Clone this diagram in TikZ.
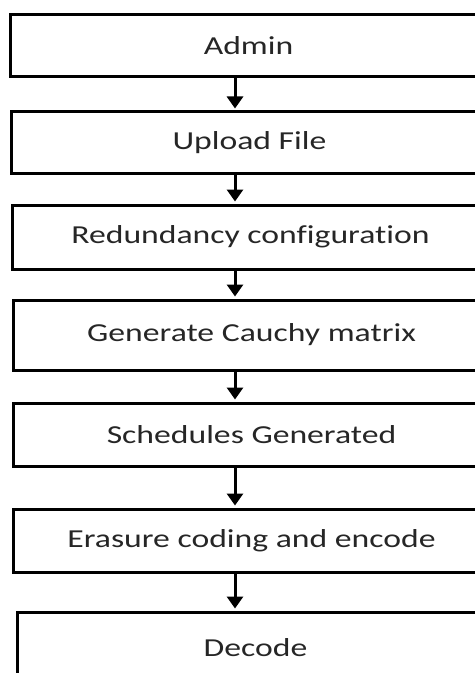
\documentclass[tikz,border=0pt]{standalone}
\usepackage{fontspec}
\setmainfont{Carlito}
\newfontfamily\stagefont[FakeStretch=1.3,Ligatures=NoCommon]{Carlito}
\usetikzlibrary{arrows.meta}

\begin{document}
\begin{tikzpicture}[line cap=butt,line join=miter,x=1bp,y=-1bp,
    stage/.style={draw, line width=3bp, anchor=west, minimum width=476bp, text=black!85, font=\stagefont\fontsize{26}{30}\selectfont},
    flow/.style={line width=3bp, -{Triangle[width=16bp,length=12bp]}, shorten >=2bp}]
                    \useasboundingbox (0,0) rectangle (475,673);
                    \clip (0,0) rectangle (475,673);

                    \node [stage, minimum height=62bp] (admin) at (9,46) {Admin};
                    \node [stage, minimum height=61bp] (upload) at (10,142.5) {Upload File};
                    \node [stage, minimum height=64bp] (redund) at (11,237) {Redundancy configuration};
                    \node [stage, minimum height=70bp] (cauchy) at (12,335) {Generate Cauchy matrix};
                    \node [stage, minimum height=63bp] (sched) at (12,434.5) {Schedules Generated};
                    \node [stage, minimum height=63bp] (erasure) at (12,540.5) {Erasure coding and encode};
                    \node [stage, minimum height=72bp] (decode) at (16,648) {Decode};

                    \coordinate (ax) at (235,0);

                    \draw [flow] (admin.south -| ax) -- (upload.north -| ax);
                    \draw [flow] (upload.south -| ax) -- (redund.north -| ax);
                    \draw [flow] (redund.south -| ax) -- (cauchy.north -| ax);
                    \draw [flow] (cauchy.south -| ax) -- (sched.north -| ax);
                    \draw [flow] (sched.south -| ax) -- (erasure.north -| ax);
                    \draw [flow] (erasure.south -| ax) -- (decode.north -| ax);
                \end{tikzpicture}
\end{document}
